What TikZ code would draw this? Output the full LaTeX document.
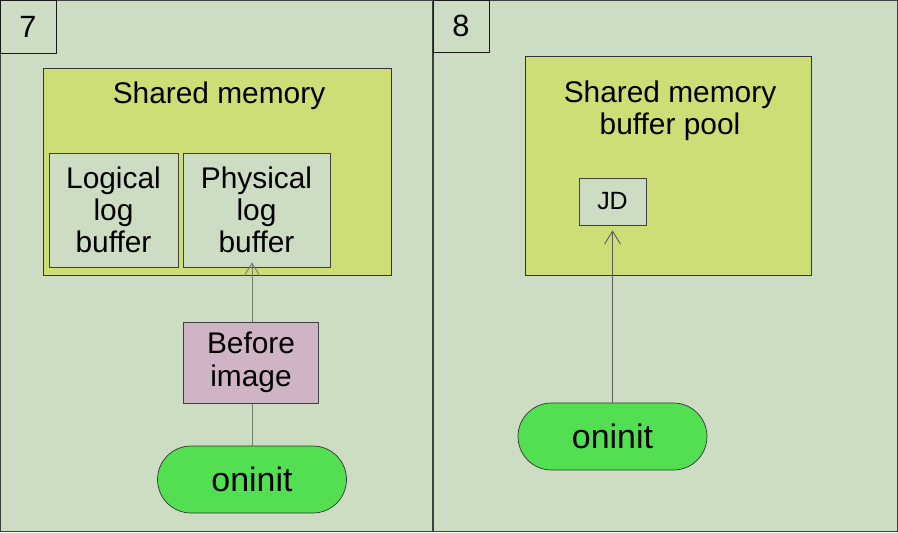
\documentclass[tikz,border=0pt]{standalone}
\usepackage{fontspec}
\setmainfont{Liberation Sans}
\usetikzlibrary{arrows.meta}

\definecolor{panelgreen}{RGB}{205,221,196}
\definecolor{shmgreen}{RGB}{206,222,118}
\definecolor{bipink}{RGB}{207,180,197}
\definecolor{procgreen}{RGB}{82,224,82}

\tikzset{
  panel/.style={draw=black!75, fill=panelgreen, minimum width=#1, minimum height=10.62cm, inner sep=0pt},
  tagbox/.style={draw=black!90, fill=panelgreen, minimum width=1.12cm, minimum height=1.06cm, inner sep=0pt, font=\fontsize{17.5}{18}\selectfont},
  shmbox/.style={draw=black!80, fill=shmgreen, inner sep=0pt},
  bufbox/.style={draw=black!75, fill=panelgreen, inner sep=0pt, align=center, font=\fontsize{17}{18.3}\selectfont},
  titletext/.style={align=center, font=\fontsize{17}{18.3}\selectfont},
  procbox/.style={draw=black!80, fill=procgreen, rounded corners=0.67cm, minimum width=3.78cm, minimum height=1.34cm, inner sep=0pt, font=\fontsize{19.3}{20}\selectfont},
  flow/.style={-{Straight Barb[length=0.26cm,width=0.32cm]}, line width=0.5pt}
}

\begin{document}
\begin{tikzpicture}[x=0.02cm, y=-0.02cm]
  \useasboundingbox (0,0) rectangle (898,532);

  % panel 7
  \node[panel=8.64cm] (panelA) at (216.5,266) {};
  \node[tagbox] (tagA) at (28,27) {7};
  \node[shmbox, minimum width=6.96cm, minimum height=4.14cm] (shmA) at (217,171.5) {};
  \node[titletext] (titleA) at (219,96) {Shared memory};
  \node[bufbox, minimum width=2.58cm, minimum height=2.28cm] (logbuf) at (113.5,210) {Logical\\log\\buffer};
  \node[bufbox, minimum width=2.94cm, minimum height=2.28cm] (physbuf) at (256.5,210) {Physical\\log\\buffer};
  \node[procbox] (oninitA) at (252,479.5) {oninit};
  \draw[flow, draw=black!45!panelgreen, shorten >=-0.1cm] (oninitA.north) -- (oninitA.north |- physbuf.south);
  \node[bufbox, fill=bipink, minimum width=2.7cm, minimum height=1.62cm, font=\fontsize{17}{19}\selectfont] (before) at (251,362.5) {Before\\image};

  % panel 8
  \node[panel=9.28cm] (panelB) at (665.5,266) {};
  \node[tagbox, minimum height=1.04cm] (tagB) at (461,26) {8};
  \node[shmbox, minimum width=5.72cm, minimum height=4.38cm] (shmB) at (668,165.5) {};
  \node[titletext] (titleB) at (670,111) {Shared memory\\buffer pool};
  \node[bufbox, minimum width=1.34cm, minimum height=0.94cm, font=\fontsize{14.2}{15}\selectfont] (jd) at (612.5,201.5) {JD};
  \node[procbox] (oninitB) at (612.5,436.5) {oninit};
  \draw[flow, draw=black!65, shorten >=0.1cm] (oninitB.north) -- (oninitB.north |- jd.south);
\end{tikzpicture}
\end{document}
